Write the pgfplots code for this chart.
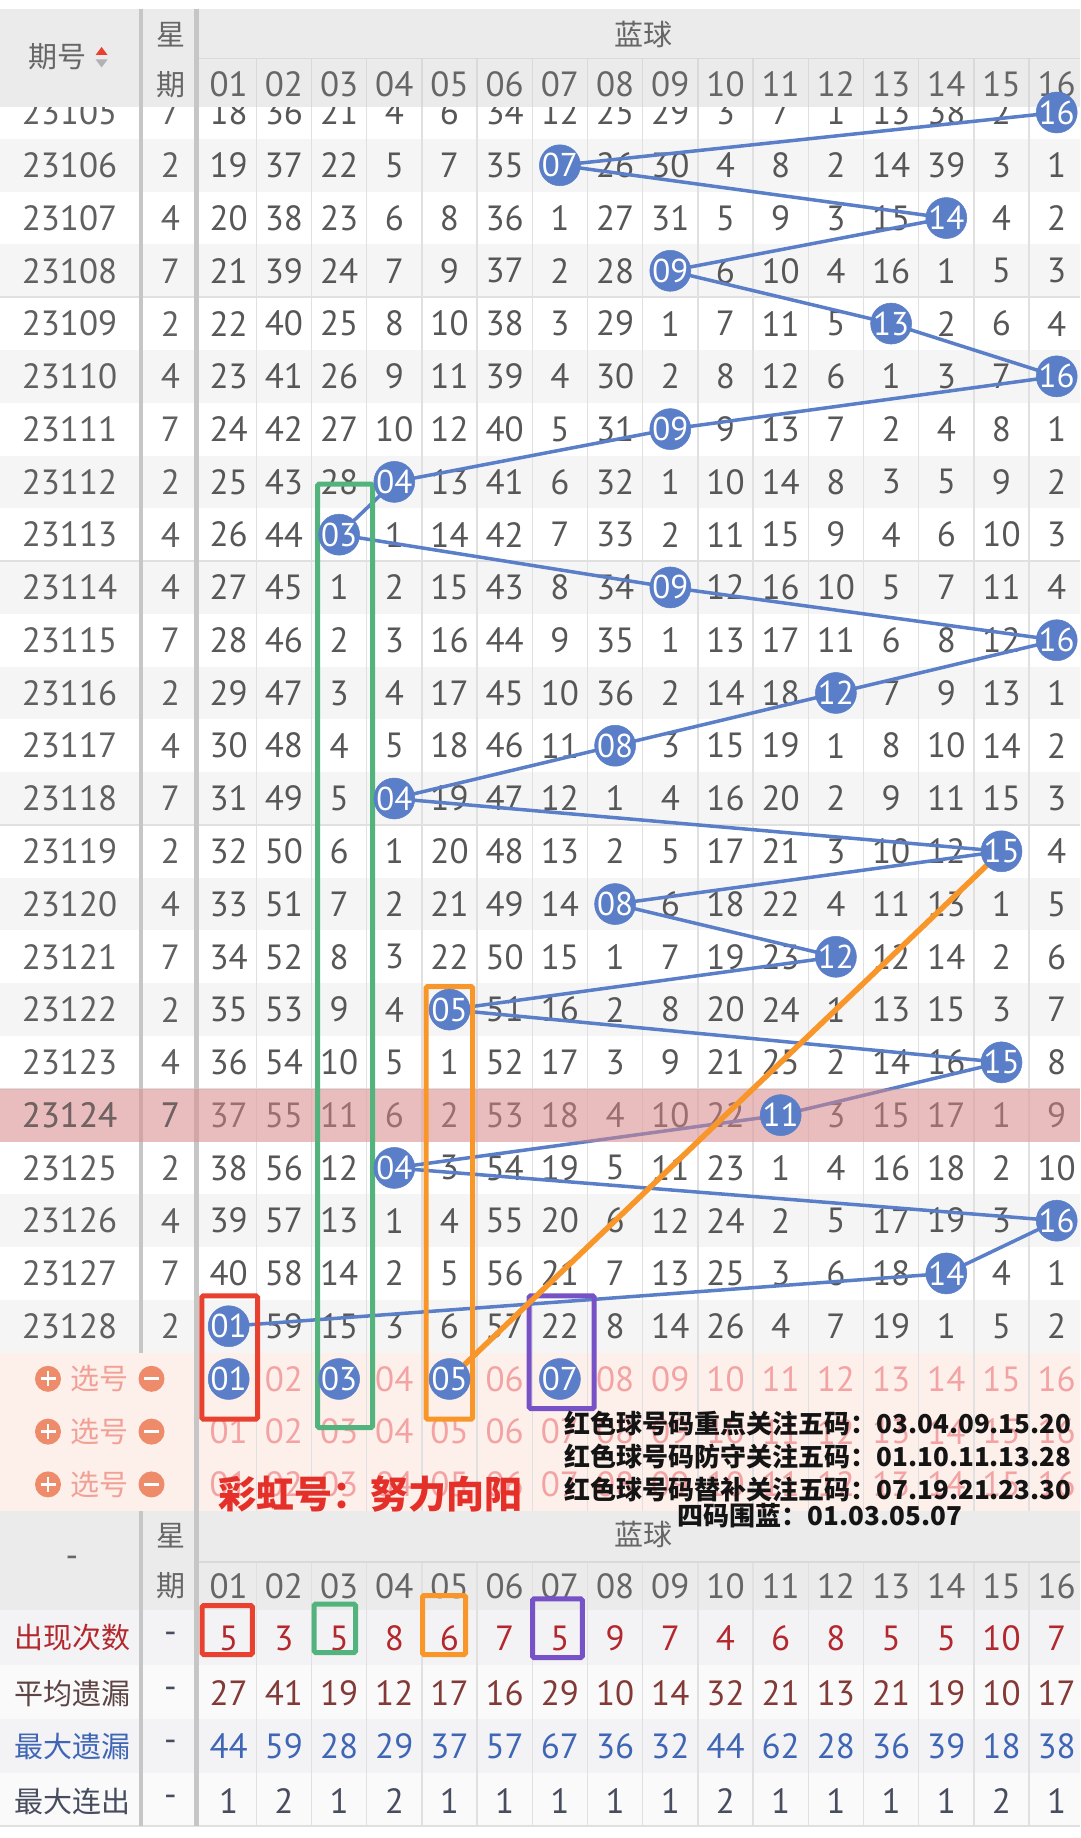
\documentclass[border=0pt]{standalone}
\usepackage{pgfplots}
\usepackage{pgfplotstable}
\pgfplotsset{compat=1.18}
\usepackage{fontspec}
\setmainfont{PT Sans}
\newfontfamily\cjk{Noto Sans CJK SC}

\definecolor{hdrbg}{HTML}{EBEBEB}
\definecolor{hdrtxt}{HTML}{666666}
\definecolor{rowg}{HTML}{F5F5F5}
\definecolor{gridc}{HTML}{E0E0E0}
\definecolor{hgrid}{HTML}{D9D9D9}
\definecolor{sepc}{HTML}{C6C6C6}
\definecolor{txt}{HTML}{575757}
\definecolor{idtxt}{HTML}{606060}
\definecolor{hltxt}{HTML}{6E6262}
\definecolor{ballc}{HTML}{5A7EC7}
\definecolor{pinkhl}{HTML}{DF8789}
\definecolor{selbg}{HTML}{FDEFEA}
\definecolor{seltxt}{HTML}{F3A3A3}
\definecolor{selword}{HTML}{F2A095}
\definecolor{selcirc}{HTML}{EE8B6B}
\definecolor{boxred}{HTML}{E8412F}
\definecolor{boxgreen}{HTML}{52B47C}
\definecolor{boxorange}{HTML}{F8962A}
\definecolor{boxpurple}{HTML}{7652C6}
\definecolor{statred}{HTML}{B3282D}
\definecolor{statbrown}{HTML}{833A36}
\definecolor{statblue}{HTML}{3F66B5}
\definecolor{statdark}{HTML}{474D5E}
\definecolor{lblbrown}{HTML}{5E4444}
\definecolor{redtxt}{HTML}{E5302A}
\definecolor{statbgA}{HTML}{F3F3F6}
\definecolor{statbgB}{HTML}{FAFAFA}

\tikzset{
 numtxt/.style={inner sep=0pt, anchor=center, font=\fontsize{35}{40}\selectfont},
 hz/.style={inner sep=0pt, anchor=center, font=\cjk\fontsize{29}{32}\selectfont, text=hdrtxt},
 captxt/.style={inner sep=0pt, anchor=center, font=\cjk\bfseries\fontsize{26}{30}\selectfont, text=black!92},
}

% one row of cell numbers: #1 y (px expression), #2 colour, #3 sixteen values (0 = no number)
\newcommand\cellrow[3]{%
 \foreach \v [count=\c] in {#3} {%
  \ifnum\v>0\relax
   \pgfmathsetmacro\xx{173.5+55.2*\c}%
   \pgfmathsetmacro\yy{#1}%
   \edef\tmp{\noexpand\node[numtxt,text=#2] at (axis cs:\xx,\yy) {\v};}\tmp
  \fi}}
% a row of two-digit labels (selection rows)
\newcommand\selrow[2]{%
 \foreach \v [count=\c] in {#2} {%
   \pgfmathsetmacro\xx{173.5+55.2*\c}%
   \edef\tmp{\noexpand\node[numtxt,text=seltxt] at (axis cs:\xx,#1) {\v};}\tmp
  }}

\pgfplotstableread{
row ball lab
0 16 16
1 7 07
2 14 14
3 9 09
4 13 13
5 16 16
6 9 09
7 4 04
8 3 03
9 9 09
10 16 16
11 12 12
12 8 08
13 4 04
14 15 15
15 8 08
16 12 12
17 5 05
18 15 15
19 11 11
20 4 04
21 16 16
22 14 14
23 1 01
}\balls

\pgfplotstableread{
row ball lab
24 1 01
24 3 03
24 5 05
24 7 07
}\selballs

\pgfplotstableread{
row ball
24 5
14 15
}\orangeline

\begin{document}
\begin{tikzpicture}
\begin{axis}[
 width=1080pt, height=1838pt, scale only axis,
 xmin=0, xmax=1080, ymin=0, ymax=1838, y dir=reverse,
 hide axis, clip=true,
]
% ---------- backgrounds
\fill[white] (axis cs:0,0) rectangle (axis cs:1080,1838);
\foreach \i in {1,3,...,23}{%
 \pgfmathsetmacro\ya{112.5+52.77*(\i-0.5)}%
 \pgfmathsetmacro\yb{\ya+52.77}%
 \edef\tmp{\noexpand\fill[rowg] (axis cs:0,\ya) rectangle (axis cs:1080,\yb);}\tmp}
\fill[selbg] (axis cs:0,1352.6) rectangle (axis cs:1080,1511);
\fill[hdrbg] (axis cs:0,1511) rectangle (axis cs:1080,1610);
\fill[statbgA] (axis cs:0,1610) rectangle (axis cs:1080,1665);
\fill[statbgB] (axis cs:0,1665) rectangle (axis cs:1080,1719);
\fill[statbgA] (axis cs:0,1719) rectangle (axis cs:1080,1773);
\fill[statbgB] (axis cs:0,1773) rectangle (axis cs:1080,1826);

% ---------- grid lines
\foreach \k in {1,...,15}{%
 \pgfmathsetmacro\xx{173.5+55.2*(\k+0.5)}%
 \edef\tmp{\noexpand\draw[gridc,line width=1.5pt] (axis cs:\xx,106) -- (axis cs:\xx,1511);
   \noexpand\draw[gridc,line width=1.5pt] (axis cs:\xx,1562) -- (axis cs:\xx,1826);}\tmp}
\foreach \yy in {297.2,561.0,824.9,1088.7}{%
 \edef\tmp{\noexpand\draw[gridc,line width=2pt] (axis cs:0,\yy) -- (axis cs:1080,\yy);}\tmp}
\draw[hgrid,line width=1.5pt] (axis cs:196,1562) -- (axis cs:1080,1562);
\draw[gridc,line width=2pt] (axis cs:0,1826) -- (axis cs:1080,1826);
\draw[sepc,line width=4pt] (axis cs:141,8.6) -- (axis cs:141,1352.6);
\draw[sepc,line width=4pt] (axis cs:141,1511) -- (axis cs:141,1826);
\draw[sepc,line width=5pt] (axis cs:196,8.6) -- (axis cs:196,1826);

% ---------- period / weekday columns
\foreach \p/\w [count=\i from 0] in {23105/7,23106/2,23107/4,23108/7,23109/2,23110/4,23111/7,23112/2,23113/4,23114/4,23115/7,23116/2,23117/4,23118/7,23119/2,23120/4,23121/7,23122/2,23123/4,23124/7,23125/2,23126/4,23127/7,23128/2}{%
 \pgfmathsetmacro\yy{112.5+52.77*\i}%
 \edef\tmp{\noexpand\node[numtxt,text=idtxt] at (axis cs:69.5,\yy) {\p};
  \noexpand\node[numtxt,text=idtxt] at (axis cs:170.5,\yy) {\w};}\tmp}

% ---------- omission counts (0 = drawn ball)
\cellrow{112.5+52.77*0}{txt}{18,36,21,4,6,34,12,25,29,3,7,1,13,38,2,0}
\cellrow{112.5+52.77*1}{txt}{19,37,22,5,7,35,0,26,30,4,8,2,14,39,3,1}
\cellrow{112.5+52.77*2}{txt}{20,38,23,6,8,36,1,27,31,5,9,3,15,0,4,2}
\cellrow{112.5+52.77*3}{txt}{21,39,24,7,9,37,2,28,0,6,10,4,16,1,5,3}
\cellrow{112.5+52.77*4}{txt}{22,40,25,8,10,38,3,29,1,7,11,5,0,2,6,4}
\cellrow{112.5+52.77*5}{txt}{23,41,26,9,11,39,4,30,2,8,12,6,1,3,7,0}
\cellrow{112.5+52.77*6}{txt}{24,42,27,10,12,40,5,31,0,9,13,7,2,4,8,1}
\cellrow{112.5+52.77*7}{txt}{25,43,28,0,13,41,6,32,1,10,14,8,3,5,9,2}
\cellrow{112.5+52.77*8}{txt}{26,44,0,1,14,42,7,33,2,11,15,9,4,6,10,3}
\cellrow{112.5+52.77*9}{txt}{27,45,1,2,15,43,8,34,0,12,16,10,5,7,11,4}
\cellrow{112.5+52.77*10}{txt}{28,46,2,3,16,44,9,35,1,13,17,11,6,8,12,0}
\cellrow{112.5+52.77*11}{txt}{29,47,3,4,17,45,10,36,2,14,18,0,7,9,13,1}
\cellrow{112.5+52.77*12}{txt}{30,48,4,5,18,46,11,0,3,15,19,1,8,10,14,2}
\cellrow{112.5+52.77*13}{txt}{31,49,5,0,19,47,12,1,4,16,20,2,9,11,15,3}
\cellrow{112.5+52.77*14}{txt}{32,50,6,1,20,48,13,2,5,17,21,3,10,12,0,4}
\cellrow{112.5+52.77*15}{txt}{33,51,7,2,21,49,14,0,6,18,22,4,11,13,1,5}
\cellrow{112.5+52.77*16}{txt}{34,52,8,3,22,50,15,1,7,19,23,0,12,14,2,6}
\cellrow{112.5+52.77*17}{txt}{35,53,9,4,0,51,16,2,8,20,24,1,13,15,3,7}
\cellrow{112.5+52.77*18}{txt}{36,54,10,5,1,52,17,3,9,21,25,2,14,16,0,8}
\cellrow{112.5+52.77*19}{txt}{37,55,11,6,2,53,18,4,10,22,0,3,15,17,1,9}
\cellrow{112.5+52.77*20}{txt}{38,56,12,0,3,54,19,5,11,23,1,4,16,18,2,10}
\cellrow{112.5+52.77*21}{txt}{39,57,13,1,4,55,20,6,12,24,2,5,17,19,3,0}
\cellrow{112.5+52.77*22}{txt}{40,58,14,2,5,56,21,7,13,25,3,6,18,0,4,1}
\cellrow{112.5+52.77*23}{txt}{0,59,15,3,6,57,22,8,14,26,4,7,19,1,5,2}

% ---------- selection rows
\selrow{1378.8}{,02,,04,,06,,08,09,10,11,12,13,14,15,16}
\selrow{1431.6}{01,02,03,04,05,06,07,08,09,10,11,12,13,14,15,16}
\selrow{1484.4}{01,02,03,04,05,06,07,08,09,10,11,12,13,14,15,16}
\foreach \yy in {1378.8,1431.6,1484.4}{%
 \edef\tmp{%
  \noexpand\fill[selcirc] (axis cs:48,\yy) circle[radius=13pt];
  \noexpand\draw[white,line width=2.8pt] (axis cs:40.5,\yy) -- (axis cs:55.5,\yy);
  \noexpand\draw[white,line width=2.8pt] (axis cs:48,\yy-7.5) -- (axis cs:48,\yy+7.5);
  \noexpand\node[hz,text=selword,font=\noexpand\cjk\noexpand\fontsize{29}{30}\noexpand\selectfont] at (axis cs:99,\yy) {选号};
  \noexpand\fill[selcirc] (axis cs:151.5,\yy) circle[radius=13pt];
  \noexpand\draw[white,line width=2.8pt] (axis cs:144,\yy) -- (axis cs:159,\yy);}\tmp}

% ---------- blue-ball trend line and balls
\addplot[ballc, line width=3.5pt, mark=none]
 table[x expr={173.5+55.2*\thisrow{ball}}, y expr={112.5+52.77*\thisrow{row}}] {\balls};
\addplot[ballc, only marks, mark=*, mark size=20.5pt,
  mark options={solid, draw=ballc, fill=ballc, line width=0.5pt},
  nodes near coords, point meta=explicit symbolic,
  nodes near coords style={anchor=center, inner sep=0pt, text=white, font=\fontsize{33}{36}\selectfont}]
 table[x expr={173.5+55.2*\thisrow{ball}}, y expr={112.5+52.77*\thisrow{row}}, meta=lab] {\balls};
\addplot[ballc, only marks, mark=*, mark size=20.5pt,
  mark options={solid, draw=ballc, fill=ballc, line width=0.5pt},
  nodes near coords, point meta=explicit symbolic,
  nodes near coords style={anchor=center, inner sep=0pt, text=white, font=\fontsize{33}{36}\selectfont}]
 table[x expr={173.5+55.2*\thisrow{ball}}, y expr={112.5+52.77*\thisrow{row}}, meta=lab] {\selballs};

% ---------- highlighted row 23124
\fill[pinkhl, opacity=0.5] (axis cs:0,1088.7) rectangle (axis cs:1080,1141.5);
\node[numtxt,text=hltxt] at (axis cs:69.5,1115.1) {23124};
\node[numtxt,text=hltxt] at (axis cs:170.5,1115.1) {7};

% ---------- annotation boxes and orange line
\draw[boxgreen, line width=5pt, rounded corners=1.5pt] (axis cs:317.5,484.2) rectangle (axis cs:372.5,1427.5);
\draw[boxred, line width=5pt, rounded corners=1.5pt] (axis cs:201.8,1295.8) rectangle (axis cs:257.5,1419.1);
\draw[boxorange, line width=5pt, rounded corners=1.5pt] (axis cs:426.1,986.5) rectangle (axis cs:472.7,1419.1);
\draw[boxpurple, line width=5pt, rounded corners=1.5pt] (axis cs:529.2,1295.8) rectangle (axis cs:594.2,1408.5);
\addplot[boxorange, line width=5.5pt] table[x expr={173.5+55.2*\thisrow{ball}}, y expr={112.5+52.77*\thisrow{row}}] {\orangeline};

% ---------- top header
\fill[hdrbg] (axis cs:0,8.6) rectangle (axis cs:1080,106.7);
\draw[hgrid,line width=1.5pt] (axis cs:196,58.5) -- (axis cs:1080,58.5);
\foreach \k in {1,...,15}{%
 \pgfmathsetmacro\xx{173.5+55.2*(\k+0.5)}%
 \edef\tmp{\noexpand\draw[hgrid,line width=1.5pt] (axis cs:\xx,58.5) -- (axis cs:\xx,106.7);}\tmp}
\draw[sepc,line width=4pt] (axis cs:141,8.6) -- (axis cs:141,106.7);
\draw[sepc,line width=5pt] (axis cs:196,8.6) -- (axis cs:196,106.7);
\node[hz] at (axis cs:57.5,57) {期号};
\fill[boxred] (axis cs:95.6,55.0) -- (axis cs:107.6,55.0) -- (axis cs:101.6,47.0) -- cycle;
\fill[black!30] (axis cs:95.6,59.5) -- (axis cs:107.6,59.5) -- (axis cs:101.6,67.5) -- cycle;
\node[hz] at (axis cs:170.5,34.4) {星};
\node[hz] at (axis cs:170.5,84.4) {期};
\node[hz] at (axis cs:643,34.4) {蓝球};
\foreach \v [count=\c] in {01,02,03,04,05,06,07,08,09,10,11,12,13,14,15,16}{%
 \pgfmathsetmacro\xx{173.5+55.2*\c}%
 \edef\tmp{\noexpand\node[numtxt,text=hdrtxt] at (axis cs:\xx,84.4) {\v};
   \noexpand\node[numtxt,text=hdrtxt] at (axis cs:\xx,1586) {\v};}\tmp}

% ---------- bottom header and statistics
\node[numtxt,text=hdrtxt] at (axis cs:72,1562) {-};
\node[hz] at (axis cs:170.5,1536) {星};
\node[hz] at (axis cs:170.5,1586) {期};
\node[hz] at (axis cs:643,1534) {蓝球};
\node[hz,text=statred] at (axis cs:72,1638) {出现次数};
\node[hz,text=lblbrown] at (axis cs:72,1693) {平均遗漏};
\node[hz,text=statblue] at (axis cs:72,1746) {最大遗漏};
\node[hz,text=statdark] at (axis cs:72,1801) {最大连出};
\foreach \yy in {1638,1693,1746,1801}{%
 \edef\tmp{\noexpand\node[numtxt,text=statdark] at (axis cs:170.5,\yy) {-};}\tmp}
\cellrow{1638}{statred}{5,3,5,8,6,7,5,9,7,4,6,8,5,5,10,7}
\cellrow{1693}{statbrown}{27,41,19,12,17,16,29,10,14,32,21,13,21,19,10,17}
\cellrow{1746}{statblue}{44,59,28,29,37,57,67,36,32,44,62,28,36,39,18,38}
\cellrow{1801}{statdark}{1,2,1,2,1,1,1,1,1,2,1,1,1,1,2,1}
\draw[boxred, line width=5pt, rounded corners=1.5pt] (axis cs:202.2,1605.5) rectangle (axis cs:252.3,1654.5);
\draw[boxgreen, line width=5pt, rounded corners=1.5pt] (axis cs:314.1,1604.1) rectangle (axis cs:355.5,1652.5);
\draw[boxorange, line width=5pt, rounded corners=1.5pt] (axis cs:422.5,1595.5) rectangle (axis cs:465.5,1654.5);
\draw[boxpurple, line width=5pt, rounded corners=1.5pt] (axis cs:532.5,1598.9) rectangle (axis cs:582.3,1657.5);

% ---------- overlaid captions
\node[captxt] at (axis cs:818,1423) {红色球号码重点关注五码：03.04.09.15.20};
\node[captxt] at (axis cs:818,1456) {红色球号码防守关注五码：01.10.11.13.28};
\node[captxt] at (axis cs:818,1489) {红色球号码替补关注五码：07.19.21.23.30};
\node[captxt] at (axis cs:820,1515.5) {四码围蓝：01.03.05.07};
\node[inner sep=0pt, anchor=center, font=\cjk\bfseries\fontsize{38}{40}\selectfont, text=redtxt] at (axis cs:370,1494) {彩虹号：努力向阳};
\end{axis}
\pgfresetboundingbox
\path (current axis.south west) rectangle (current axis.north east);
\end{tikzpicture}
\end{document}
